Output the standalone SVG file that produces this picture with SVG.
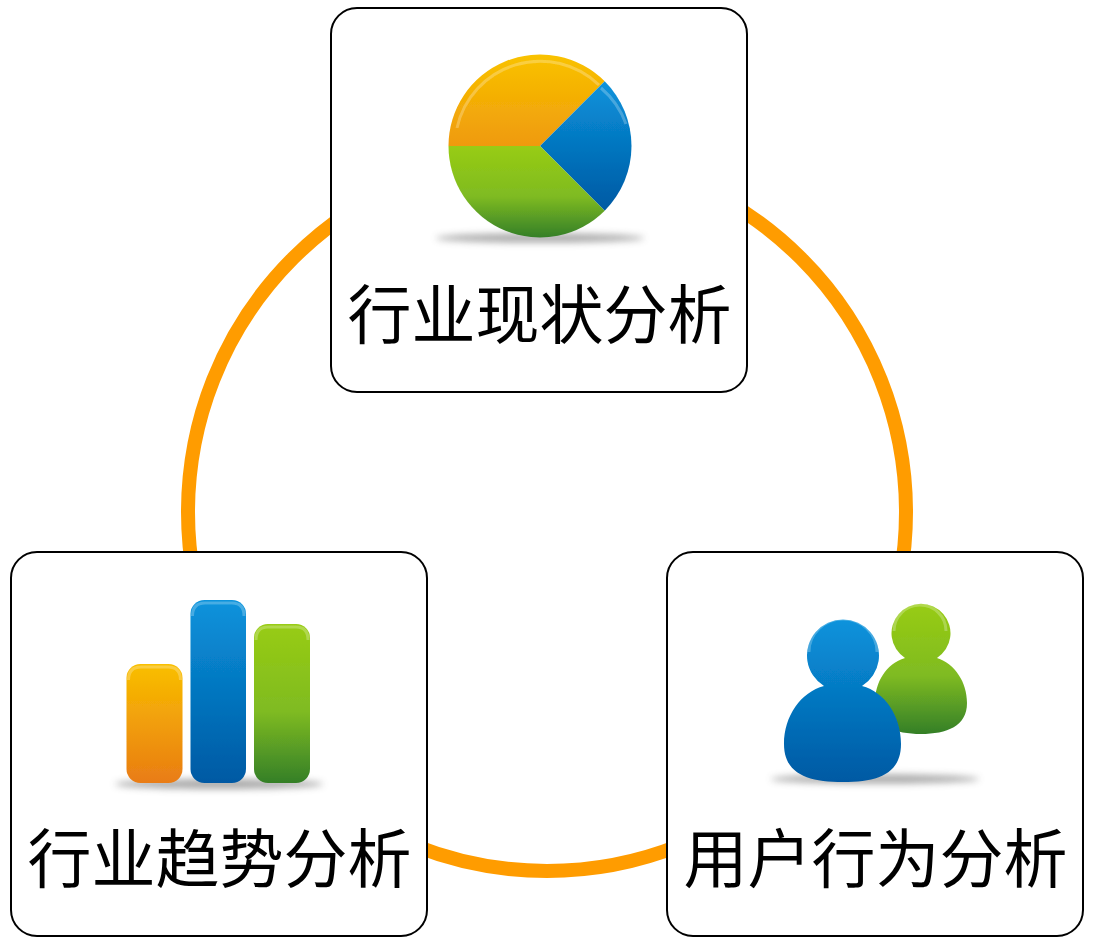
<svg xmlns="http://www.w3.org/2000/svg" width="1094" height="947" viewBox="0 0 1094 947">
<style>
.card{fill:#fff;stroke:#000;stroke-width:2}
.lbl{font-family:"Noto Sans CJK SC","Liberation Sans",sans-serif;font-size:64px;fill:#000;text-anchor:middle}
.shadow{fill:#555;opacity:.5;filter:url(#blur)}
.gloss{fill:none;stroke:#fff;stroke-opacity:.25;stroke-width:3}
.icon{filter:url(#soft)}
</style>
<defs>
<filter id="blur" x="-20%" y="-200%" width="140%" height="500%"><feGaussianBlur stdDeviation="3.500"/></filter>
<filter id="soft" x="-5%" y="-5%" width="110%" height="110%"><feGaussianBlur stdDeviation=".7"/></filter>
<linearGradient id="or" x1="0" y1="0" x2="0" y2="1"><stop offset="0" stop-color="#f9c200"/><stop offset="1" stop-color="#ef9a0c"/></linearGradient>
<linearGradient id="or2" x1="0" y1="0" x2="0" y2="1"><stop offset="0" stop-color="#f9bf00"/><stop offset="1" stop-color="#e97c14"/></linearGradient>
<linearGradient id="bl" x1="0" y1="0" x2="0" y2="1"><stop offset="0" stop-color="#0a93dc"/><stop offset="1" stop-color="#0059a3"/></linearGradient>
<linearGradient id="gr" x1="0" y1="0" x2="0" y2="1"><stop offset="0" stop-color="#98cc12"/><stop offset=".55" stop-color="#7fbb22"/><stop offset="1" stop-color="#347f28"/></linearGradient>
<linearGradient id="pbl" gradientUnits="userSpaceOnUse" x1="0" y1="619" x2="0" y2="782"><stop offset="0" stop-color="#0a93dc"/><stop offset="1" stop-color="#0059a3"/></linearGradient>
<linearGradient id="pgr" gradientUnits="userSpaceOnUse" x1="0" y1="604" x2="0" y2="734"><stop offset="0" stop-color="#98cc12"/><stop offset=".55" stop-color="#7fbb22"/><stop offset="1" stop-color="#347f28"/></linearGradient>
</defs>
<g id="connectors"><circle cx="547" cy="512" r="359" fill="none" stroke="#ff9c00" stroke-width="14"/></g>
<g id="node-top">
<rect class="card" x="331" y="8" width="416" height="384" rx="26"/>
<ellipse class="shadow" cx="540" cy="238" rx="104" ry="4.500"/>
<g class="icon">
<path d="M540 146H448.500A91.500 91.500 0 0 1 604.700 81.300Z" fill="url(#or)"/>
<path d="M540 146L604.700 81.300A91.500 91.500 0 0 1 604.700 210.700Z" fill="url(#bl)"/>
<path d="M540 146L604.700 210.700A91.500 91.500 0 0 1 448.500 146Z" fill="url(#gr)"/>
<path class="gloss" d="M457 128A85 85 0 0 1 599 85"/>
<path class="gloss" d="M601 88A85 85 0 0 1 626 124"/>
</g>
<text class="lbl" x="539.500" y="338">行业现状分析</text>
</g>
<g id="node-left">
<rect class="card" x="11" y="552" width="416" height="384" rx="26"/>
<ellipse class="shadow" cx="219" cy="784" rx="104" ry="5"/>
<g class="icon">
<rect x="126.500" y="664" width="56" height="119" rx="14" fill="url(#or2)"/>
<rect x="190.500" y="600" width="55.500" height="183" rx="14" fill="url(#bl)"/>
<rect x="254" y="624" width="56" height="159" rx="14" fill="url(#gr)"/>
<path class="gloss" d="M128.500 680C128.500 671 133 667 141 667H168C176 667 180.500 671 180.500 680"/>
<path class="gloss" d="M192.500 616C192.500 607 197 603 205 603H232C240 603 244 607 244 616"/>
<path class="gloss" d="M256 640C256 631 260 627 268 627H296C304 627 308 631 308 640"/>
</g>
<text class="lbl" x="219.500" y="882">行业趋势分析</text>
</g>
<g id="node-right">
<rect class="card" x="667" y="552" width="416" height="384" rx="26"/>
<ellipse class="shadow" cx="875" cy="779" rx="104" ry="4.500"/>
<g class="icon">
<path fill="url(#pgr)" d="M905 658A29.500 29.500 0 1 1 937 658C955 664 967 682 967 703C967 726 947 734 921 734C895 734 875 726 875 703C875 682 886 664 905 658Z"/>
<path fill="url(#pbl)" d="M824 686A36 36 0 1 1 862 686C885 692 901 716 901 744C901 774 878 782 843 782C808 782 784 774 784 744C784 716 801 692 824 686Z"/>
<path class="gloss" d="M809 652A34 33 0 0 1 877 652"/>
<path class="gloss" d="M894 631A26 26 0 0 1 946 631"/>
</g>
<text class="lbl" x="875.500" y="882">用户行为分析</text>
</g>
</svg>
